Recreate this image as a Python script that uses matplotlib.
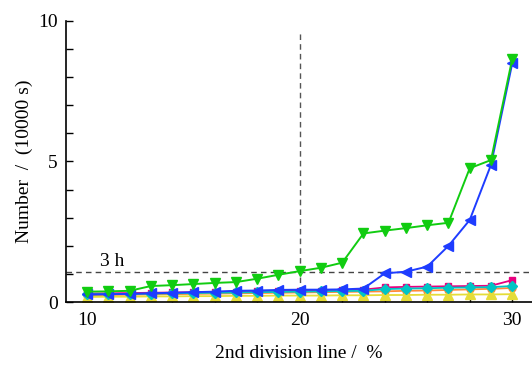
import numpy as np
import matplotlib
matplotlib.use("Agg")
from matplotlib import pyplot as plt
from matplotlib.ticker import MultipleLocator

plt.rcParams['font.family'] = ['Liberation Serif', 'DejaVu Serif']

# 2nd division line position (%)
x = np.arange(10, 31)

# number of cycles, in units of 10000 s
pink = [0.30, 0.31, 0.32, 0.33, 0.34, 0.35, 0.36, 0.37, 0.38, 0.39, 0.40,
        0.41, 0.42, 0.44, 0.52, 0.54, 0.55, 0.56, 0.57, 0.58, 0.78]
orange = [0.24, 0.25, 0.26, 0.27, 0.28, 0.29, 0.30, 0.31, 0.32, 0.33, 0.34,
          0.35, 0.36, 0.37, 0.38, 0.40, 0.41, 0.43, 0.45, 0.47, 0.50]
yellow = [0.18, 0.19, 0.19, 0.20, 0.20, 0.21, 0.21, 0.22, 0.22, 0.23, 0.23,
          0.23, 0.24, 0.24, 0.25, 0.25, 0.26, 0.26, 0.27, 0.27, 0.28]
cyan = [0.27, 0.28, 0.29, 0.30, 0.31, 0.32, 0.33, 0.34, 0.35, 0.36, 0.37,
        0.38, 0.39, 0.40, 0.46, 0.48, 0.49, 0.51, 0.52, 0.53, 0.57]
blue = [0.27, 0.28, 0.29, 0.31, 0.33, 0.35, 0.37, 0.40, 0.41, 0.43, 0.44,
        0.44, 0.45, 0.48, 1.02, 1.08, 1.26, 2.00, 2.92, 4.88, 8.49]
green = [0.37, 0.38, 0.40, 0.57, 0.60, 0.64, 0.68, 0.71, 0.83, 0.97, 1.10,
         1.22, 1.40, 2.44, 2.54, 2.63, 2.73, 2.82, 4.76, 5.05, 8.65]

three_hours = 10800 / 10000.0

fig = plt.figure(figsize=(5.32, 3.67), dpi=100)
ax = fig.add_axes([0.124, 0.177, 0.876, 0.766])

ax.plot(x, pink, color='#e8007f', marker='s', ms=5, lw=1.3)
ax.plot(x, orange, color='#ff8a3a', marker='o', ms=5, lw=1.3)
ax.plot(x, yellow, color='#e5dc38', marker='^', ms=6.5, lw=1.3)
ax.plot(x, cyan, color='#00c4c4', marker='D', ms=5, lw=1.3)
ax.plot(x, blue, color='#1e3cff', marker='<', ms=6.5, lw=1.4)
ax.plot(x, green, color='#11cc11', marker='v', ms=6.5, lw=1.4)

ax.axhline(three_hours, color='#444444', lw=1.0, ls=(0, (4, 3)), zorder=0.5)
ax.plot([20, 20], [0, 9.6], color='#555555', lw=1.0, ls=(0, (4, 3)), zorder=0.5)
ax.text(10.6, three_hours + 0.2, '3 h', fontsize=14)

ax.set_xlim(9, 30.93)
ax.set_ylim(0, 10)
ax.xaxis.set_major_locator(MultipleLocator(10))
ax.xaxis.set_minor_locator(MultipleLocator(2))
ax.yaxis.set_major_locator(MultipleLocator(5))
ax.yaxis.set_minor_locator(MultipleLocator(1))
ax.tick_params(which='both', direction='in', labelsize=14, width=1.0, length=5)
ax.tick_params(axis='x', pad=7)
ax.tick_params(axis='y', pad=6)

for s in ['top', 'right']:
    ax.spines[s].set_visible(False)
for s in ['left', 'bottom']:
    ax.spines[s].set_linewidth(1.2)

ax.set_xlabel('2nd division line /  %', fontsize=14, labelpad=11.5)
ax.set_ylabel('Number  /  (10000 s)', fontsize=14, labelpad=3.5)

fig.savefig('out.png', dpi=100)
